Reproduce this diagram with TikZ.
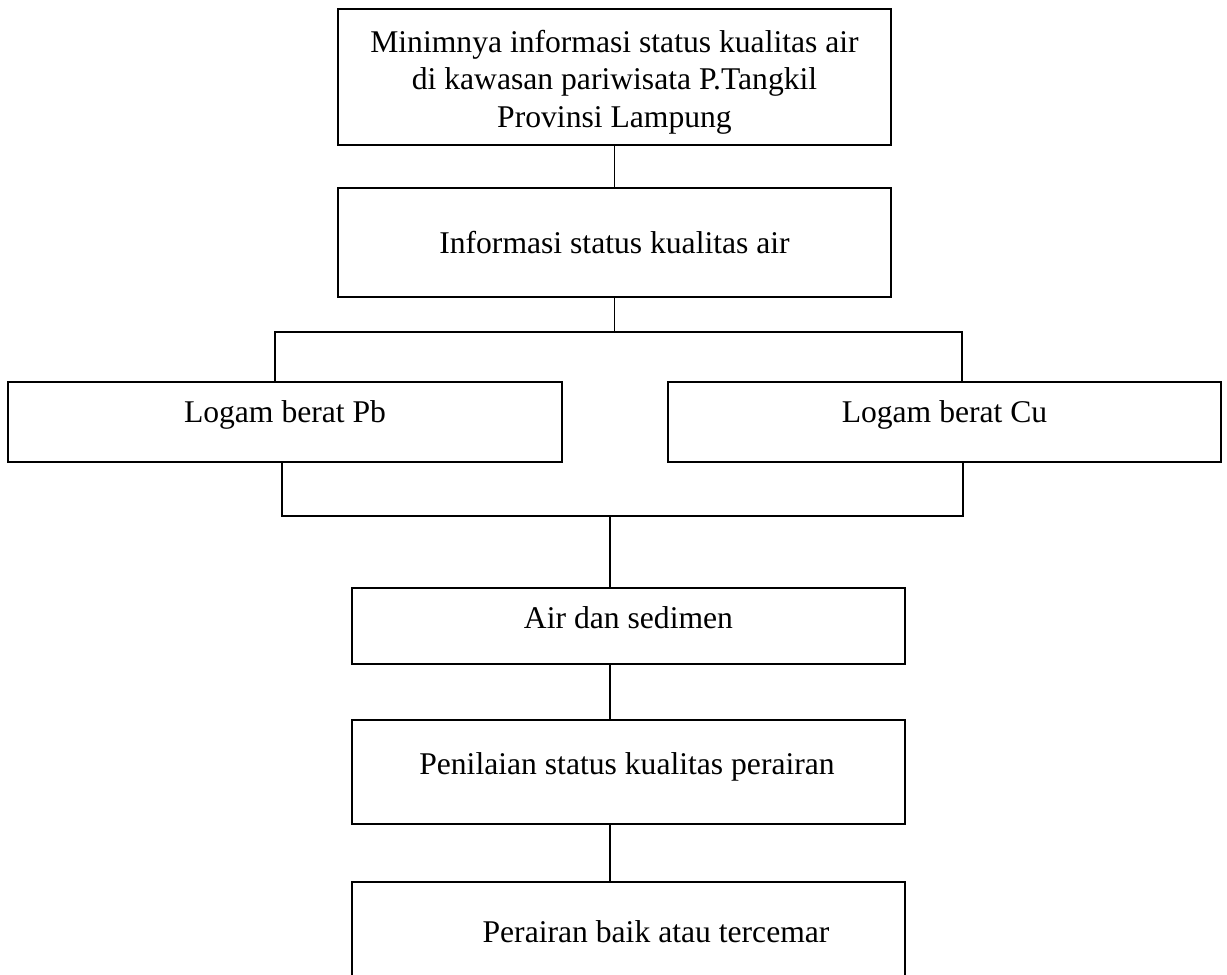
\documentclass[tikz,border=0pt]{standalone}
\usepackage{fontspec}
\setmainfont{Liberation Serif}
\usetikzlibrary{fit}
\begin{document}
\begin{tikzpicture}[x=0.02cm,y=-0.02cm,
  boxn/.style={draw, line width=1.5pt, inner sep=0pt},
  conn/.style={line width=0.65pt},
  txt/.style={font=\fontsize{18}{21.3}\selectfont, inner sep=0pt, align=center}]
\clip (0,0) rectangle (1227,974);
\useasboundingbox (0,0) rectangle (1227,974);
\node[boxn, fit={(338,9) (891,145)}] (b1) {};
\node[boxn, fit={(338,188) (891,297)}] (b2) {};
\node[boxn, fit={(8,382) (562,462)}] (b3) {};
\node[boxn, fit={(668,382) (1221,462)}] (b4) {};
\node[boxn, fit={(352,588) (905,664)}] (b5) {};
\node[boxn, fit={(352,720) (905,824)}] (b6) {};
\node[boxn, fit={(352,882) (905,1010)}] (b7) {};
\node[txt] (t1) at (614.5,82) {Minimnya informasi status kualitas air\\di kawasan pariwisata P.Tangkil\\Provinsi Lampung};
\node[txt, anchor=base] (t2) at (614.5,253) {Informasi status kualitas air};
\node[txt, anchor=base] (t3) at (285,422) {Logam berat Pb};
\node[txt, anchor=base] (t4) at (944.5,422) {Logam berat Cu};
\node[txt, anchor=base] (t5) at (628.5,628) {Air dan sedimen};
\node[txt, anchor=base] (t6) at (627,774) {Penilaian status kualitas perairan};
\node[txt, anchor=base] (t7) at (656,942) {Perairan baik atau tercemar};
\coordinate (jL) at (275,332);
\coordinate (jR) at (962,332);
\coordinate (kL) at (282,516);
\coordinate (kR) at (963,516);
\coordinate (kM) at (610,516);
\draw[conn] (b1.south) -- (b2.north);
\draw[conn] (b2.south) -- (b2.south |- jL);
\draw[conn] (jL |- b3.north) -- (jL) -- (jR) -- (jR |- b4.north);
\draw[conn] (kL |- b3.south) -- (kL) -- (kR) -- (kR |- b4.south);
\draw[conn] (kM) -- (kM |- b5.north);
\draw[conn] (kM |- b5.south) -- (kM |- b6.north);
\draw[conn] (kM |- b6.south) -- (kM |- b7.north);
\end{tikzpicture}
\end{document}
